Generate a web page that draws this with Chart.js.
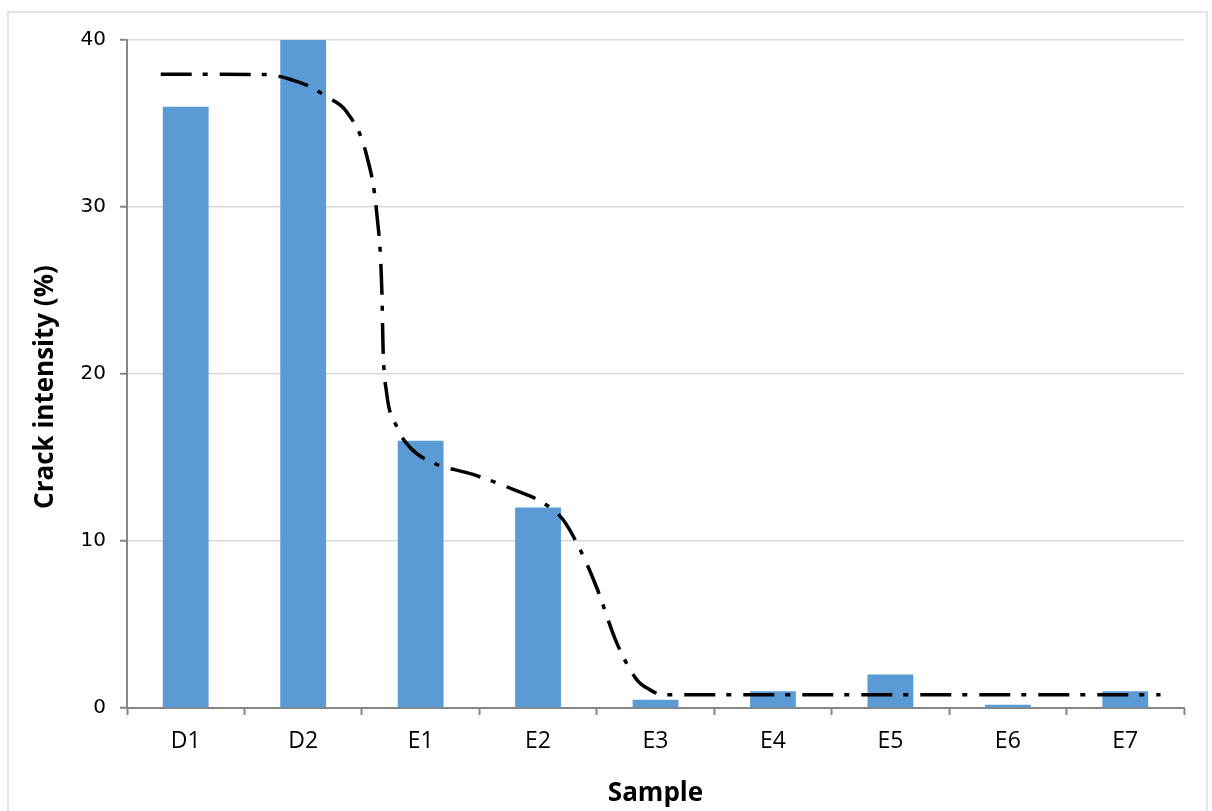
<!DOCTYPE html>
<html>
<head>
<meta charset="utf-8">
<script src="https://cdn.jsdelivr.net/npm/chart.js@4/dist/chart.umd.min.js"></script>
<style>
html,body{margin:0;padding:0;background:#fff;}
#wrap{position:relative;width:1212px;height:811px;overflow:hidden;}
#frame{position:absolute;left:7px;top:11px;width:1201px;height:820px;border:2px solid #e3e3e3;box-sizing:border-box;}
canvas{position:absolute;left:0;top:0;}
</style>
</head>
<body>
<div id="wrap"><div id="frame"></div><canvas id="c" width="1212" height="811"></canvas></div>
<script>
const categories = ["D1","D2","E1","E2","E3","E4","E5","E6","E7"];
const crackIntensity = [36, 40, 16, 12, 0.5, 1, 2, 0.2, 1];
// trend line: x in category units (0 = left edge of axis), y in %
const trendX = [0.287,1.19,1.41,1.56,1.70,1.87,2.04,2.13,2.17,2.18,2.21,2.30,2.41,2.60,2.94,3.32,3.54,3.71,3.85,4.00,4.17,4.34,4.45,4.56,8.80];
const trendY = [37.95,37.93,37.6,37.2,36.6,35.7,33.1,29.4,25.0,21.6,18.9,16.8,15.6,14.7,14.0,13.0,12.3,11.3,9.6,7.2,3.9,1.7,1.1,0.8,0.8];
const yTicks = [0,10,20,30,40];

const trendPts = trendX.map((x,i)=>({x:x,y:trendY[i]}));

new Chart(document.getElementById('c'), {
  type: 'bar',
  data: {
    labels: categories,
    datasets: [
      {
        type: 'bar',
        data: crackIntensity,
        backgroundColor: '#5B9BD5',
        barPercentage: 0.39,
        categoryPercentage: 1.0,
        grouped: false,
        xAxisID: 'x',
        order: 2
      },
      {
        type: 'line',
        data: trendPts,
        xAxisID: 'x2',
        borderColor: '#000',
        borderWidth: 3.5,
        borderDash: [31, 11, 5, 12],
        borderCapStyle: 'butt',
        pointRadius: 0,
        fill: false,
        cubicInterpolationMode: 'monotone',
        order: 1
      }
    ]
  },
  options: {
    responsive: false,
    animation: false,
    devicePixelRatio: 1,
    layout: { padding: { left: 24, right: 28, top: 40, bottom: 0 } },
    plugins: { legend: { display: false }, tooltip: { enabled: false } },
    scales: {
      x: {
        type: 'category',
        offset: true,
        grid: { offset: true, drawOnChartArea: false, tickLength: 7, tickColor: '#868686', tickWidth: 2 },
        border: { color: '#868686', width: 2 },
        ticks: { color: '#000', font: { family: 'Open Sans', size: 23 }, padding: 13 },
        title: { display: true, text: 'Sample', color: '#000', font: { family: 'Open Sans', size: 26, weight: 'bold' }, padding: { top: 6, bottom: 2 } },
        afterFit: s => { s.height = 103; }
      },
      x2: {
        type: 'linear',
        display: false,
        offset: false,
        min: 0,
        max: 9
      },
      y: {
        min: 0,
        max: 40,
        afterBuildTicks: s => { s.ticks = yTicks.map(v => ({ value: v })); },
        grid: { color: '#d9d9d9', lineWidth: 1.5, tickLength: 7, tickColor: '#868686', tickWidth: 2 },
        border: { color: '#868686', width: 2 },
        ticks: { color: '#000', font: { family: 'DejaVu Sans', size: 20 }, padding: 14 },
        title: { display: true, text: 'Crack intensity (%)\u2002\u2002', color: '#000', font: { family: 'Open Sans', size: 26, weight: 'bold' }, padding: { top: 6, bottom: 4 } },
        afterFit: s => { s.width = 103; }
      }
    }
  }
});
</script>
</body>
</html>
